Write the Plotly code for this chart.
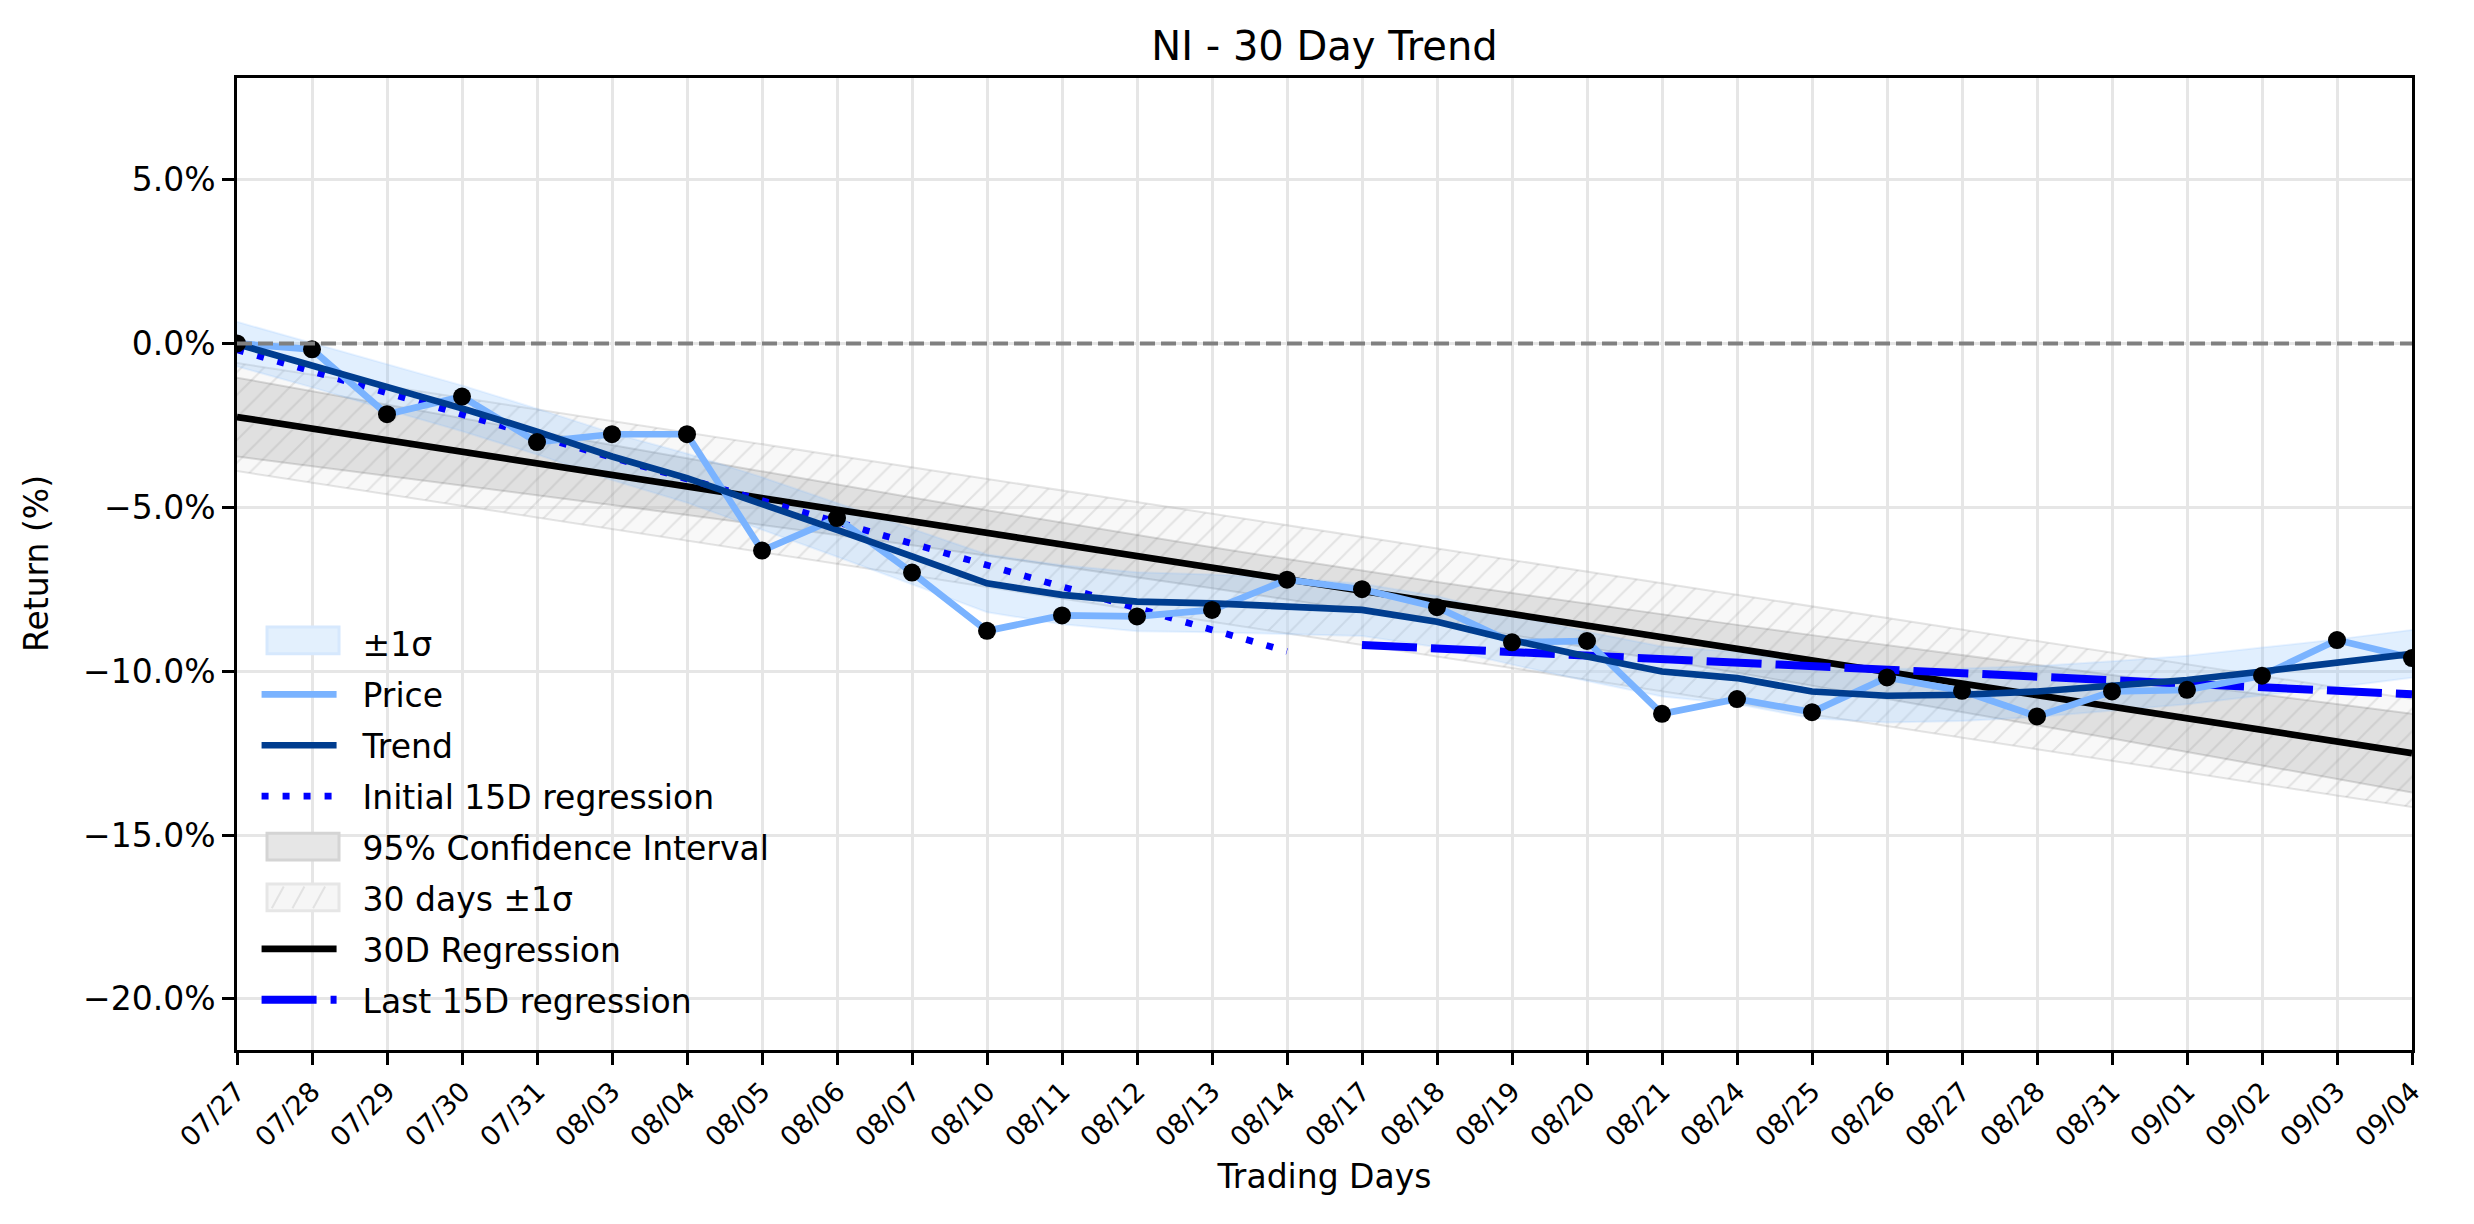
import numpy as np
import plotly.graph_objects as go

dates = ['07/27', '07/28', '07/29', '07/30', '07/31', '08/03', '08/04', '08/05', '08/06', '08/07',
         '08/10', '08/11', '08/12', '08/13', '08/14', '08/17', '08/18', '08/19', '08/20', '08/21',
         '08/24', '08/25', '08/26', '08/27', '08/28', '08/31', '09/01', '09/02', '09/03', '09/04']
price = [0.0, -0.18, -2.16, -1.62, -3.01, -2.77, -2.77, -6.32, -5.33, -6.99,
         -8.77, -8.30, -8.33, -8.13, -7.21, -7.50, -8.05, -9.12, -9.08, -11.30,
         -10.85, -11.25, -10.19, -10.60, -11.38, -10.62, -10.57, -10.14, -9.05, -9.60]
trend = [-0.02, -0.66, -1.32, -1.98, -2.69, -3.45, -4.11, -4.88, -5.69, -6.50,
         -7.32, -7.67, -7.88, -7.93, -8.01, -8.13, -8.49, -9.05, -9.55, -10.01,
         -10.21, -10.62, -10.75, -10.72, -10.62, -10.45, -10.27, -10.01, -9.76, -9.47]
sigma = [0.68, 0.68, 0.70, 0.70, 0.70, 0.72, 0.75, 0.80, 0.82, 0.85,
         0.88, 0.90, 0.90, 0.88, 0.85, 0.80, 0.78, 0.75, 0.75, 0.76,
         0.80, 0.82, 0.82, 0.80, 0.78, 0.75, 0.74, 0.73, 0.73, 0.73]
ytick_vals = [5, 0, -5, -10, -15, -20]
ytick_text = ['5.0%', '0.0%', '\u22125.0%', '\u221210.0%', '\u221215.0%', '\u221220.0%']

x = np.arange(len(price))
p = np.array(price)
tr = np.array(trend)
sg = np.array(sigma)

# 30 day regression + bands
m, c = np.polyfit(x, p, 1)
fit = m * x + c
n = len(x)
se = np.sqrt(np.sum((p - fit) ** 2) / (n - 2))
t95 = 2.048
ci = t95 * se * np.sqrt(1 / n + (x - x.mean()) ** 2 / np.sum((x - x.mean()) ** 2))

# 15 day regressions
x1, x2 = x[:15], x[15:]
m1, c1 = np.polyfit(x1, p[:15], 1)
m2, c2 = np.polyfit(x2, p[15:], 1)

FONT = 'DejaVu Sans'
SP = '\u00a0\u00a0'   # push legend text a bit right of the handle
fig = go.Figure()

def band(lo, hi, edge, fillcolor, pattern=None):
    fig.add_trace(go.Scatter(x=x, y=lo, mode='lines', line=dict(color=edge, width=2),
                             showlegend=False, hoverinfo='skip'))
    fig.add_trace(go.Scatter(x=x, y=hi, mode='lines', line=dict(color=edge, width=2),
                             fill='tonexty', fillcolor=fillcolor, fillpattern=pattern,
                             showlegend=False, hoverinfo='skip'))

def patch(name, rank):
    # legend-only entry; the box itself is drawn as a shape below
    fig.add_trace(go.Scatter(x=[None], y=[None], mode='lines', line=dict(color='rgba(0,0,0,0)', width=2),
                             name=SP + name, legendrank=rank, legendgroup='g%d' % rank))

band(fit - se, fit + se, 'rgba(150,150,150,0.25)', 'rgba(200,200,200,0.15)',
     dict(shape='/', fgcolor='rgba(150,150,150,0.45)', bgcolor='rgba(235,235,235,0.35)', size=16, solidity=0.12))
band(fit - ci, fit + ci, 'rgba(120,120,120,0.25)', 'rgba(128,128,128,0.2)')
band(tr - sg, tr + sg, 'rgba(120,180,255,0.15)', 'rgba(120,180,250,0.22)')

patch('\u00b11\u03c3', 1)
patch('95% Confidence Interval', 5)
patch('30 days \u00b11\u03c3', 6)

fig.add_trace(go.Scatter(x=x, y=fit, mode='lines', line=dict(color='black', width=6.7),
                         name=SP + '30D Regression', legendrank=7, legendgroup='g7'))
fig.add_trace(go.Scatter(x=x1, y=m1 * x1 + c1, mode='lines', line=dict(color='#0000ff', width=6.7, dash='7px,14px'),
                         name=SP + 'Initial 15D regression', legendrank=4, legendgroup='g4'))
fig.add_trace(go.Scatter(x=x2, y=m2 * x2 + c2, mode='lines', line=dict(color='#0000ff', width=8, dash='55px,14px'),
                         name=SP + 'Last 15D regression', legendrank=8, legendgroup='g8'))
fig.add_trace(go.Scatter(x=x, y=p, mode='lines', line=dict(color='#7ab3ff', width=6.7),
                         name=SP + 'Price', legendrank=2, legendgroup='g2'))
fig.add_trace(go.Scatter(x=x, y=tr, mode='lines', line=dict(color='#003d8f', width=6.7),
                         name=SP + 'Trend', legendrank=3, legendgroup='g3'))
fig.add_trace(go.Scatter(x=x, y=p, mode='markers', marker=dict(color='black', size=18),
                         showlegend=False, legendgroup='g2'))

fig.add_shape(type='line', xref='paper', x0=0, x1=1, yref='y', y0=0, y1=0,
              line=dict(color='#808080', width=4, dash='15px,6px'))

# legend boxes for the filled bands
for y0, y1, fc, lc in [(0.4077, 0.4352, '#e3f0fd', '#d6e8fd'),
                       (0.1955, 0.2229, '#e6e6e6', '#d4d4d4'),
                       (0.1433, 0.1708, '#f6f6f6', '#e6e6e6')]:
    fig.add_shape(type='rect', xref='paper', yref='paper', x0=0.0138, x1=0.0469, y0=y0, y1=y1,
                  fillcolor=fc, line=dict(color=lc, width=3), layer='above')
for k in range(3):
    fig.add_shape(type='line', xref='paper', yref='paper',
                  x0=0.0160 + k * 0.0095, x1=0.0215 + k * 0.0095, y0=0.1458, y1=0.1683,
                  line=dict(color='#e2e2e2', width=2), layer='above')

# page body has an 8px margin, so the figure is shrunk and shifted to keep the plot box in place
fig.update_layout(
    width=2458, height=1208, autosize=False,
    margin=dict(l=229, r=54, t=70, b=166),
    paper_bgcolor='white', plot_bgcolor='white',
    font=dict(family=FONT, size=33, color='black'),
    title=dict(text='NI - 30 Day Trend', x=(229 + 2404) / 2 / 2458, xanchor='center',
               y=1 - 38 / 1208, yanchor='middle', yref='container', font=dict(size=40, color='black')),
    legend=dict(x=0.009, y=0.447, xanchor='left', yanchor='top', bgcolor='rgba(0,0,0,0)',
                font=dict(size=33), itemwidth=75, tracegroupgap=5, traceorder='grouped'),
    showlegend=True,
    annotations=[dict(text='Return (%)', xref='paper', yref='paper', x=-0.0924, y=0.5,
                      xanchor='center', yanchor='middle', textangle=-90, showarrow=False,
                      font=dict(size=33, color='black'))],
)
fig.update_xaxes(range=[0, 29], tickvals=list(x), ticktext=dates, tickangle=-45,
                 tickfont=dict(size=27), showgrid=True, gridcolor='#e6e6e6', gridwidth=2.7,
                 showline=True, linecolor='black', linewidth=2.7, mirror=True,
                 ticks='outside', ticklen=12, tickwidth=2.7, tickcolor='black', zeroline=False,
                 title=dict(text='Trading Days', font=dict(size=33), standoff=14))
fig.update_yaxes(range=[-21.56, 8.10], tickvals=ytick_vals, ticktext=ytick_text,
                 tickfont=dict(size=33), showgrid=True, gridcolor='#e6e6e6', gridwidth=2.7,
                 showline=True, linecolor='black', linewidth=2.7, mirror=True,
                 ticks='outside', ticklen=12, tickwidth=2.7, tickcolor='black', zeroline=False)

fig.write_html('out.html')
